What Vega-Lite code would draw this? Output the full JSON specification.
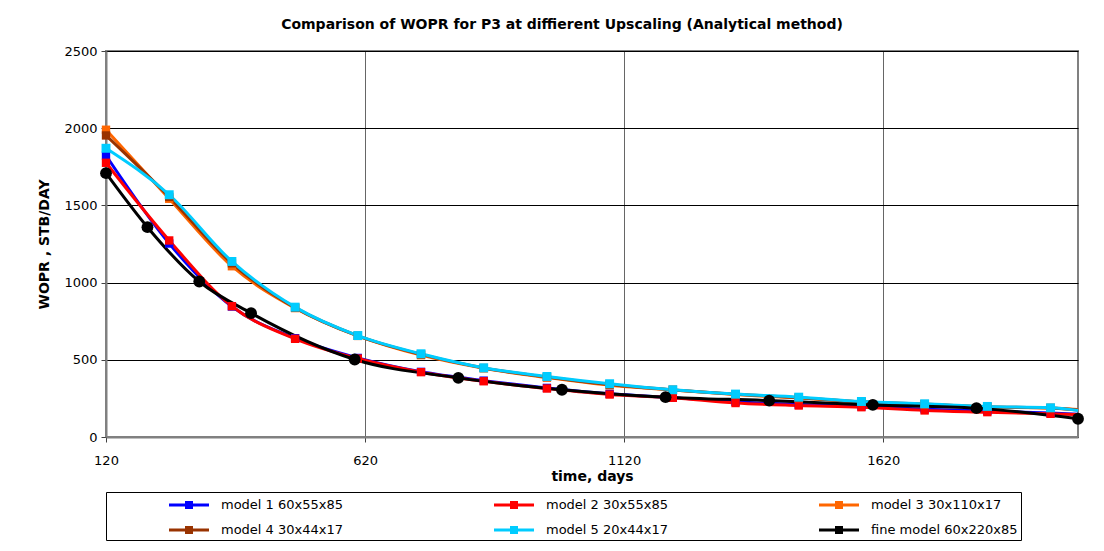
{
  "$schema": "https://vega.github.io/schema/vega-lite/v6.json",
  "width": 972,
  "height": 386,
  "autosize": {"type": "none"},
  "padding": {"left": 106, "top": 51, "right": 26, "bottom": 114},
  "background": "white",
  "title": {
    "text": "Comparison of WOPR for P3 at diffierent Upscaling (Analytical method)",
    "font": "DejaVu Sans",
    "fontSize": 14,
    "fontWeight": "bold",
    "color": "black",
    "anchor": "middle",
    "offset": 13,
    "dx": -30
  },
  "config": {
    "font": "DejaVu Sans",
    "view": {"stroke": "#808080", "strokeWidth": 2}
  },
  "data": {
    "values": [
      {"series": "model 1 60x55x85", "day": 120, "wopr": 1823},
      {"series": "model 1 60x55x85", "day": 242, "wopr": 1253},
      {"series": "model 1 60x55x85", "day": 363, "wopr": 845},
      {"series": "model 1 60x55x85", "day": 485, "wopr": 640},
      {"series": "model 1 60x55x85", "day": 606, "wopr": 512},
      {"series": "model 1 60x55x85", "day": 728, "wopr": 422},
      {"series": "model 1 60x55x85", "day": 849, "wopr": 365},
      {"series": "model 1 60x55x85", "day": 971, "wopr": 318},
      {"series": "model 1 60x55x85", "day": 1092, "wopr": 280},
      {"series": "model 1 60x55x85", "day": 1214, "wopr": 255},
      {"series": "model 1 60x55x85", "day": 1335, "wopr": 228},
      {"series": "model 1 60x55x85", "day": 1457, "wopr": 210},
      {"series": "model 1 60x55x85", "day": 1578, "wopr": 198},
      {"series": "model 1 60x55x85", "day": 1700, "wopr": 180},
      {"series": "model 1 60x55x85", "day": 1821, "wopr": 168},
      {"series": "model 1 60x55x85", "day": 1943, "wopr": 155},
      {"series": "model 1 60x55x85", "day": 1996, "wopr": 148},

      {"series": "model 2 30x55x85", "day": 120, "wopr": 1776},
      {"series": "model 2 30x55x85", "day": 242, "wopr": 1273},
      {"series": "model 2 30x55x85", "day": 363, "wopr": 847},
      {"series": "model 2 30x55x85", "day": 485, "wopr": 636},
      {"series": "model 2 30x55x85", "day": 606, "wopr": 508},
      {"series": "model 2 30x55x85", "day": 728, "wopr": 420},
      {"series": "model 2 30x55x85", "day": 849, "wopr": 361},
      {"series": "model 2 30x55x85", "day": 971, "wopr": 314},
      {"series": "model 2 30x55x85", "day": 1092, "wopr": 275},
      {"series": "model 2 30x55x85", "day": 1214, "wopr": 254},
      {"series": "model 2 30x55x85", "day": 1335, "wopr": 220},
      {"series": "model 2 30x55x85", "day": 1457, "wopr": 204},
      {"series": "model 2 30x55x85", "day": 1578, "wopr": 193},
      {"series": "model 2 30x55x85", "day": 1700, "wopr": 172},
      {"series": "model 2 30x55x85", "day": 1821, "wopr": 161},
      {"series": "model 2 30x55x85", "day": 1943, "wopr": 150},
      {"series": "model 2 30x55x85", "day": 1996, "wopr": 145},

      {"series": "model 3 30x110x17", "day": 120, "wopr": 1990},
      {"series": "model 3 30x110x17", "day": 242, "wopr": 1543},
      {"series": "model 3 30x110x17", "day": 363, "wopr": 1106},
      {"series": "model 3 30x110x17", "day": 485, "wopr": 835},
      {"series": "model 3 30x110x17", "day": 606, "wopr": 655},
      {"series": "model 3 30x110x17", "day": 728, "wopr": 530},
      {"series": "model 3 30x110x17", "day": 849, "wopr": 445},
      {"series": "model 3 30x110x17", "day": 971, "wopr": 385},
      {"series": "model 3 30x110x17", "day": 1092, "wopr": 335},
      {"series": "model 3 30x110x17", "day": 1214, "wopr": 305},
      {"series": "model 3 30x110x17", "day": 1335, "wopr": 275},
      {"series": "model 3 30x110x17", "day": 1457, "wopr": 252},
      {"series": "model 3 30x110x17", "day": 1578, "wopr": 228},
      {"series": "model 3 30x110x17", "day": 1700, "wopr": 212},
      {"series": "model 3 30x110x17", "day": 1821, "wopr": 195},
      {"series": "model 3 30x110x17", "day": 1943, "wopr": 188},
      {"series": "model 3 30x110x17", "day": 1996, "wopr": 178},

      {"series": "model 4 30x44x17", "day": 120, "wopr": 1953},
      {"series": "model 4 30x44x17", "day": 242, "wopr": 1555},
      {"series": "model 4 30x44x17", "day": 363, "wopr": 1125},
      {"series": "model 4 30x44x17", "day": 485, "wopr": 838},
      {"series": "model 4 30x44x17", "day": 606, "wopr": 655},
      {"series": "model 4 30x44x17", "day": 728, "wopr": 535},
      {"series": "model 4 30x44x17", "day": 849, "wopr": 447},
      {"series": "model 4 30x44x17", "day": 971, "wopr": 388},
      {"series": "model 4 30x44x17", "day": 1092, "wopr": 340},
      {"series": "model 4 30x44x17", "day": 1214, "wopr": 305},
      {"series": "model 4 30x44x17", "day": 1335, "wopr": 277},
      {"series": "model 4 30x44x17", "day": 1457, "wopr": 255},
      {"series": "model 4 30x44x17", "day": 1578, "wopr": 229},
      {"series": "model 4 30x44x17", "day": 1700, "wopr": 213},
      {"series": "model 4 30x44x17", "day": 1821, "wopr": 196},
      {"series": "model 4 30x44x17", "day": 1943, "wopr": 188},
      {"series": "model 4 30x44x17", "day": 1996, "wopr": 175},

      {"series": "model 5 20x44x17", "day": 120, "wopr": 1870},
      {"series": "model 5 20x44x17", "day": 242, "wopr": 1569},
      {"series": "model 5 20x44x17", "day": 363, "wopr": 1137},
      {"series": "model 5 20x44x17", "day": 485, "wopr": 841},
      {"series": "model 5 20x44x17", "day": 606, "wopr": 657},
      {"series": "model 5 20x44x17", "day": 728, "wopr": 539},
      {"series": "model 5 20x44x17", "day": 849, "wopr": 448},
      {"series": "model 5 20x44x17", "day": 971, "wopr": 392},
      {"series": "model 5 20x44x17", "day": 1092, "wopr": 345},
      {"series": "model 5 20x44x17", "day": 1214, "wopr": 306},
      {"series": "model 5 20x44x17", "day": 1335, "wopr": 278},
      {"series": "model 5 20x44x17", "day": 1457, "wopr": 258},
      {"series": "model 5 20x44x17", "day": 1578, "wopr": 230},
      {"series": "model 5 20x44x17", "day": 1700, "wopr": 215},
      {"series": "model 5 20x44x17", "day": 1821, "wopr": 198},
      {"series": "model 5 20x44x17", "day": 1943, "wopr": 189},
      {"series": "model 5 20x44x17", "day": 1996, "wopr": 172},

      {"series": "fine model 60x220x85", "day": 120, "wopr": 1709},
      {"series": "fine model 60x220x85", "day": 200, "wopr": 1359},
      {"series": "fine model 60x220x85", "day": 300, "wopr": 1007},
      {"series": "fine model 60x220x85", "day": 400, "wopr": 802},
      {"series": "fine model 60x220x85", "day": 600, "wopr": 502},
      {"series": "fine model 60x220x85", "day": 800, "wopr": 383},
      {"series": "fine model 60x220x85", "day": 1000, "wopr": 306},
      {"series": "fine model 60x220x85", "day": 1200, "wopr": 258},
      {"series": "fine model 60x220x85", "day": 1400, "wopr": 236},
      {"series": "fine model 60x220x85", "day": 1600, "wopr": 208},
      {"series": "fine model 60x220x85", "day": 1800, "wopr": 187},
      {"series": "fine model 60x220x85", "day": 1996, "wopr": 118}
    ]
  },
  "encoding": {
    "x": {
      "field": "day",
      "type": "quantitative",
      "scale": {"domain": [120, 1996], "nice": false, "zero": false},
      "axis": {
        "title": "time, days",
        "titleFont": "DejaVu Sans",
        "titleFontSize": 14,
        "titleFontWeight": "bold",
        "titleColor": "black",
        "titlePadding": 2,
        "values": [120, 620, 1120, 1620],
        "format": "d",
        "grid": true,
        "gridColor": "#666666",
        "gridWidth": 1,
        "domainColor": "#808080",
        "domainWidth": 2,
        "tickColor": "#404040",
        "tickSize": 5,
        "labelFont": "DejaVu Sans",
        "labelFontSize": 13,
        "labelColor": "black",
        "labelPadding": 12,
        "labelFlush": false
      }
    },
    "y": {
      "field": "wopr",
      "type": "quantitative",
      "scale": {"domain": [0, 2500], "nice": false},
      "axis": {
        "title": "WOPR , STB/DAY",
        "titleFont": "DejaVu Sans",
        "titleFontSize": 14,
        "titleFontWeight": "bold",
        "titleColor": "black",
        "titlePadding": 12,
        "values": [0, 500, 1000, 1500, 2000, 2500],
        "format": "d",
        "grid": true,
        "gridColor": "black",
        "gridWidth": 1,
        "domainColor": "#808080",
        "domainWidth": 2,
        "tickColor": "#404040",
        "tickSize": 5,
        "labelFont": "DejaVu Sans",
        "labelFontSize": 13,
        "labelColor": "black",
        "labelPadding": 4
      }
    },
    "color": {
      "field": "series",
      "type": "nominal",
      "sort": ["model 1 60x55x85", "model 2 30x55x85", "model 3 30x110x17", "model 4 30x44x17", "model 5 20x44x17", "fine model 60x220x85"],
      "scale": {
        "domain": ["model 1 60x55x85", "model 2 30x55x85", "model 3 30x110x17", "model 4 30x44x17", "model 5 20x44x17", "fine model 60x220x85"],
        "range": ["#0000FF", "#FF0000", "#FF6600", "#993300", "#00CCFF", "#000000"]
      },
      "legend": {
        "orient": "none",
        "legendX": 0,
        "legendY": 441,
        "direction": "horizontal",
        "columns": 3,
        "title": " ",
        "titleOrient": "left",
        "titlePadding": 60,
        "strokeColor": "black",
        "fillColor": "white",
        "padding": 3,
        "columnPadding": 150,
        "rowPadding": 8,
        "labelFont": "DejaVu Sans",
        "labelFontSize": 13,
        "labelColor": "black",
        "labelLimit": 800,
        "labelOffset": 22,
        "labelExpr": "indexof(['model 3 30x110x17', 'fine model 60x220x85'], datum.label) >= 0 ? datum.label + '\u00a0\u00a0\u00a0\u00a0\u00a0\u00a0\u00a0\u00a0\u00a0\u00a0\u00a0\u00a0\u00a0\u00a0\u00a0\u00a0\u00a0\u00a0\u00a0\u00a0\u00a0\u00a0\u00a0\u00a0\u00a0\u00a0\u00a0\u00a0\u00a0\u00a0\u00a0\u00a0\u00a0\u00a0\u00a0\u00a0\u00a0\u00a0\u00a0\u00a0\u00a0\u00a0\u00a0\u00a0\u00a0\u2003\u2003' : datum.label",
        "symbolType": "M-2,-0.14H2V0.14H-2Z M-0.4,-0.4H0.4V0.4H-0.4Z",
        "symbolSize": 400,
        "symbolOffset": 10,
        "symbolStrokeWidth": 0,
        "encode": {
          "symbols": {
            "update": {
              "fill": {"scale": "color", "field": "value"},
              "opacity": {"value": 1}
            }
          }
        }
      }
    }
  },
  "layer": [
    {
      "mark": {"type": "line", "interpolate": "monotone", "strokeWidth": 3},
      "encoding": {}
    },
    {
      "transform": [
        {"filter": "datum.series !== 'fine model 60x220x85' && datum.series !== 'model 5 20x44x17' && datum.day < 1990"}
      ],
      "mark": {"type": "square", "size": 70, "opacity": 1},
      "encoding": {}
    },
    {
      "transform": [
        {"filter": "datum.series === 'model 5 20x44x17' && datum.day < 1990"}
      ],
      "mark": {"type": "square", "size": 80, "opacity": 1},
      "encoding": {}
    },
    {
      "transform": [
        {"filter": "datum.series === 'fine model 60x220x85'"}
      ],
      "mark": {"type": "circle", "size": 140, "opacity": 1},
      "encoding": {}
    }
  ]
}
